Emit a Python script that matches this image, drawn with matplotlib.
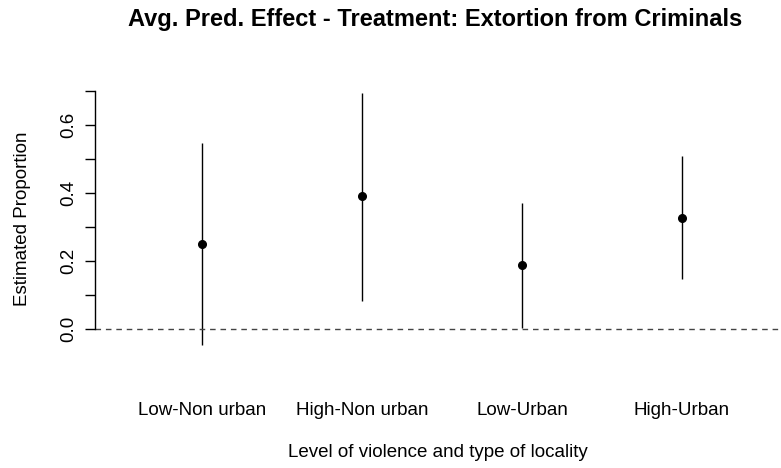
import matplotlib
matplotlib.use("Agg")
import matplotlib.pyplot as plt

plt.rcParams['font.family'] = ['Liberation Sans', 'DejaVu Sans']

# data
groups = ["Low-Non urban", "High-Non urban", "Low-Urban", "High-Urban"]
estimate = [0.250, 0.390, 0.187, 0.327]
lower = [-0.047, 0.083, 0.002, 0.147]
upper = [0.546, 0.696, 0.370, 0.510]
y_ticks = [0.0, 0.1, 0.2, 0.3, 0.4, 0.5, 0.6, 0.7]
y_labels = ["0.0", "", "0.2", "", "0.4", "", "0.6", ""]

W, H = 781, 468
fig = plt.figure(figsize=(W / 100, H / 100), dpi=100)
# plot region in pixels: x 95..781, y 82..355
ax = fig.add_axes([95 / W, (H - 355) / H, (781 - 95) / W, (355 - 82) / H])

x = list(range(1, len(groups) + 1))
ax.vlines(x, lower, upper, color="black", lw=1.0)
ax.plot(x, estimate, "o", color="black", markersize=5.5)
ax.axhline(0, color="#444444", lw=1.0, linestyle=(0, (4, 3.5)))

ax.set_xlim(0.33, 4.62)
ax.set_ylim(-0.077, 0.727)

for s in ["top", "right", "bottom"]:
    ax.spines[s].set_visible(False)
ax.spines["left"].set_bounds(0, 0.7)
ax.spines["left"].set_linewidth(1.0)

ax.set_yticks(y_ticks)
ax.set_yticklabels(y_labels, rotation=90, va="center", fontsize=13.5)
ax.tick_params(axis="y", length=7, width=1.0, pad=6)

ax.set_xticks(x)
ax.set_xticklabels(groups, fontsize=13.5)
ax.tick_params(axis="x", length=0, pad=34)

ax.set_ylabel("Estimated Proportion", fontsize=13.5, labelpad=21)
ax.set_xlabel("Level of violence and type of locality", fontsize=13.5, labelpad=18)
fig.suptitle("Avg. Pred. Effect - Treatment: Extortion from Criminals",
             fontsize=17, fontweight="bold", x=0.557, y=0.982)

fig.savefig("out.png", dpi=100)
